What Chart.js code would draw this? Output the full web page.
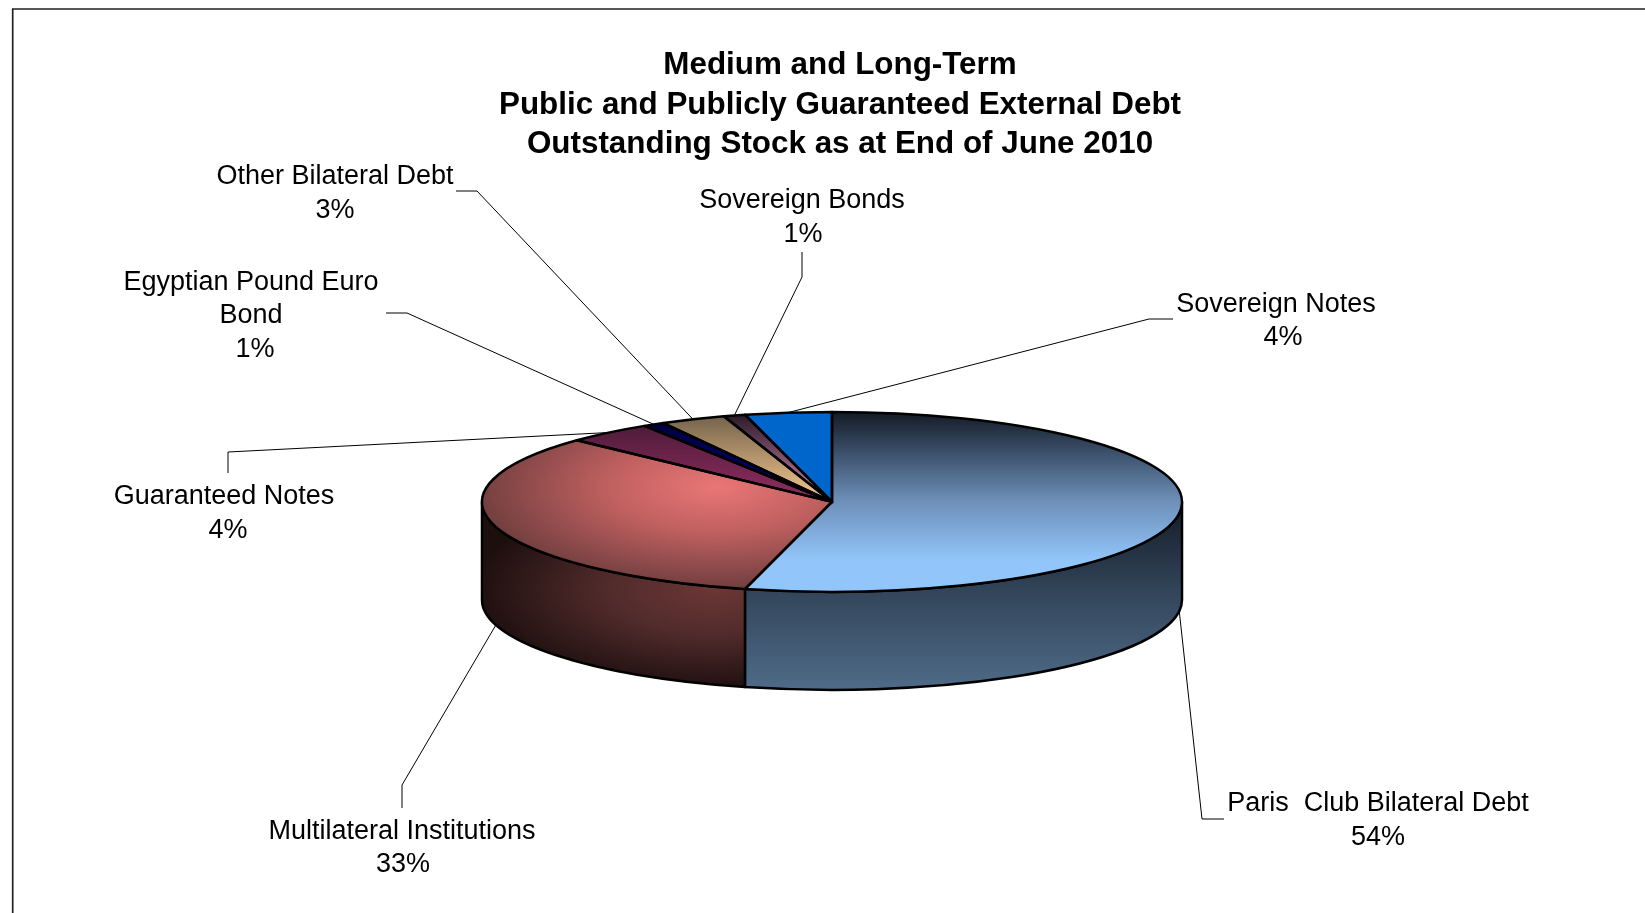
<!DOCTYPE html>
<html>
<head>
<meta charset="utf-8">
<title>External Debt</title>
<style>
    html, body { margin: 0; padding: 0; background: #fff; }
    canvas { display: block; }
</style>
<script src="https://cdn.jsdelivr.net/npm/chart.js@4"></script>
</head>
<body>
<canvas id="debtPie" width="1645" height="913"></canvas>
<script>
const titleLines = [
    "Medium and Long-Term",
    "Public and Publicly Guaranteed External Debt",
    "Outstanding Stock as at End of June 2010",
];
const categories = [
    "Paris  Club Bilateral Debt",
    "Multilateral Institutions",
    "Guaranteed Notes",
    ["Egyptian Pound Euro", "Bond"],
    "Other Bilateral Debt",
    "Sovereign Bonds",
    "Sovereign Notes",
];
const shares = [54, 33, 4, 1, 3, 1, 4];

// pie geometry: the chart area is a 700px square, flattened by tilt when drawn
const W = 1645;
const H = 913;
const cx = 832;
const cy = 502;
const tilt = 90 / 350;
const depth = 98;

const flatY = (y) => cy + (y - cy) / tilt;

const gradientCtx = document.createElement("canvas").getContext("2d");

function verticalFill(y0, y1, stops) {
    const g = gradientCtx.createLinearGradient(0, y0, 0, y1);
    stops.forEach(([at, color]) => g.addColorStop(at, color));
    return g;
}

// stretched radial shading, painted offscreen and used as a pattern
function radialFill(x, y, rx, ry, stops) {
    const off = document.createElement("canvas");
    off.width = W;
    off.height = H;
    const o = off.getContext("2d");
    o.translate(x, y);
    o.scale(1, ry / rx);
    const g = o.createRadialGradient(0, 0, 0, 0, 0, rx);
    stops.forEach(([at, color]) => g.addColorStop(at, color));
    o.fillStyle = g;
    o.fillRect(-W, -H * 4, W * 2, H * 8);
    return o.createPattern(off, "no-repeat");
}

const faceFills = [
    verticalFill(flatY(412), flatY(560), [[0, "#141a26"], [0.3, "#3f5570"], [0.6, "#6d8fb8"], [1, "#92c5fa"]]),
    radialFill(717, flatY(487), 240, 100 / tilt, [[0, "#ea7676"], [0.45, "#c06060"], [1, "#733f3f"]]),
    verticalFill(flatY(420), flatY(502), [[0, "#4a1a36"], [1, "#932e63"]]),
    verticalFill(flatY(420), flatY(502), [[0, "#00003a"], [1, "#00008c"]]),
    verticalFill(flatY(416), flatY(502), [[0, "#75634c"], [1, "#f8ca90"]]),
    verticalFill(flatY(414), flatY(502), [[0, "#2a1a28"], [1, "#d988b8"]]),
    "#0066cc",
];

const wallFills = [
    verticalFill(503, 690, [[0, "#141c28"], [0.5, "#34475c"], [1, "#4f6b88"]]),
    radialFill(715, 590, 240, 100, [[0, "#6b3636"], [0.45, "#512b2b"], [1, "#1e0f0f"]]),
];

// elbows of the leader lines and where each text line sits
const callouts = [
    { path: [[1202, 819], [1224, 819]], x: [1378, 1378], y: [804, 838] },
    { path: [[402, 785], [402, 808]], x: [402, 403], y: [832, 865] },
    { path: [[228, 452], [228, 473]], x: [224, 228], y: [497, 531] },
    { path: [[407, 313], [386, 313]], x: [251, 251, 255], y: [283, 316, 350] },
    { path: [[477, 191], [456, 191]], x: [335, 335], y: [177, 211] },
    { path: [[802, 277], [802, 252]], x: [802, 803], y: [201, 235] },
    { path: [[1149, 319], [1173, 319]], x: [1276, 1283], y: [305, 338] },
];

const frame = {
    id: "frame",
    beforeDraw(chart) {
        const ctx = chart.ctx;
        ctx.save();
        ctx.strokeStyle = "#222";
        ctx.lineWidth = 1.7;
        ctx.beginPath();
        ctx.moveTo(12.7, H);
        ctx.lineTo(12.7, 9);
        ctx.lineTo(W, 9);
        ctx.stroke();
        ctx.restore();
    },
};

const pie3d = {
    id: "pie3d",
    afterLayout(chart) {
        // the title block sits a little right of the pie
        chart.titleBlock.left += 8;
        chart.titleBlock.right += 8;
    },
    beforeDatasetsDraw(chart) {
        const ctx = chart.ctx;
        const arcs = chart.getDatasetMeta(0).data;
        // side wall for whatever part of each slice faces the viewer
        arcs.forEach((arc, i) => {
            const a = Math.max(arc.startAngle, 0);
            const b = Math.min(arc.endAngle, Math.PI);
            if (b <= a) return;
            const r = arc.outerRadius;
            const ry = r * tilt;
            ctx.save();
            ctx.beginPath();
            ctx.ellipse(arc.x, arc.y, r, ry, 0, a, b);
            ctx.ellipse(arc.x, arc.y + depth, r, ry, 0, b, a, true);
            ctx.closePath();
            ctx.fillStyle = wallFills[i];
            ctx.fill();
            ctx.strokeStyle = "#000";
            ctx.lineWidth = 2.5;
            ctx.lineJoin = "round";
            ctx.stroke();
            ctx.restore();
        });
        ctx.save();
        ctx.translate(cx, cy);
        ctx.scale(1, tilt);
        ctx.translate(-cx, -cy);
    },
    afterDatasetsDraw(chart) {
        const ctx = chart.ctx;
        ctx.restore();
        const arcs = chart.getDatasetMeta(0).data;
        // outlines go on unflattened so the line keeps an even width
        arcs.forEach((arc) => {
            ctx.save();
            ctx.beginPath();
            ctx.moveTo(arc.x, arc.y);
            ctx.ellipse(arc.x, arc.y, arc.outerRadius, arc.outerRadius * tilt, 0, arc.startAngle, arc.endAngle);
            ctx.closePath();
            ctx.strokeStyle = "#000";
            ctx.lineWidth = 2.5;
            ctx.lineJoin = "round";
            ctx.stroke();
            ctx.restore();
        });
        drawCallouts(chart, arcs);
    },
};

function drawCallouts(chart, arcs) {
    const ctx = chart.ctx;
    ctx.save();
    ctx.font = "27px 'Liberation Sans'";
    ctx.textAlign = "center";
    ctx.textBaseline = "middle";
    arcs.forEach((arc, i) => {
        const mid = (arc.startAngle + arc.endAngle) / 2;
        const r = arc.outerRadius;
        const onWall = Math.sin(mid) > 0;
        const c = callouts[i];
        ctx.beginPath();
        ctx.moveTo(arc.x + r * Math.cos(mid), arc.y + r * tilt * Math.sin(mid) + (onWall ? depth : 0));
        c.path.forEach(([x, y]) => ctx.lineTo(x, y));
        ctx.strokeStyle = "#000";
        ctx.lineWidth = 1;
        ctx.stroke();

        const lines = [].concat(categories[i], shares[i] + "%");
        ctx.fillStyle = "#000";
        lines.forEach((line, n) => ctx.fillText(line, c.x[n], c.y[n]));
    });
    ctx.restore();
}

const debtChart = new Chart(document.getElementById("debtPie"), {
    type: "pie",
    data: {
        labels: categories,
        datasets: [{
            data: shares,
            backgroundColor: faceFills,
            borderWidth: 0,
        }],
    },
    options: {
        responsive: false,
        animation: false,
        events: [],
        layout: {
            padding: { left: 482, right: 463, top: 0, bottom: 61 },
        },
        plugins: {
            legend: { display: false },
            tooltip: { enabled: false },
            title: {
                display: true,
                text: titleLines,
                color: "#000",
                font: { family: "'Liberation Sans'", size: 31.4, weight: "bold", lineHeight: 1.25 },
                padding: { top: 46, bottom: -12 },
            },
        },
    },
    plugins: [frame, pie3d],
});
</script>
</body>
</html>
